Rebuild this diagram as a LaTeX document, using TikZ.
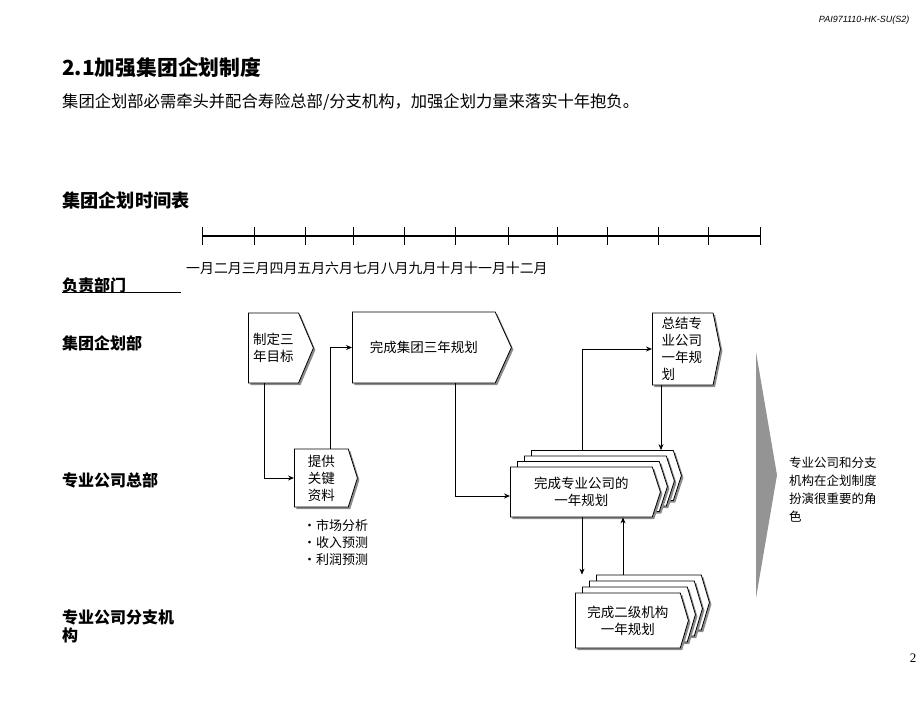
\documentclass[tikz,border=0pt]{standalone}
\usepackage{fontspec}
\setmainfont{Liberation Serif}
\newfontfamily\cjk{Noto Sans CJK SC}
\newfontfamily\arial{Liberation Sans}
\usetikzlibrary{shapes.symbols,shadows,arrows.meta,calc}

\begin{document}
\begin{tikzpicture}[x=1pt,y=-1pt,
  chev/.style={signal,signal to=east,draw,fill=white,line width=0.8pt,inner sep=0pt,anchor=west,
    drop shadow={shadow xshift=2pt,shadow yshift=-2pt,fill=black!45,opacity=1}},
  lbl/.style={font=\cjk\bfseries\fontsize{16}{19}\selectfont,anchor=west,inner sep=0pt},
  txt/.style={font=\cjk\fontsize{13.5}{17}\selectfont,align=center},
  link/.style={line width=0.8pt,-{Stealth[length=6pt,width=5pt]}}]
\useasboundingbox (0,0) rectangle (920,711);

\node[font=\arial\itshape\fontsize{9}{10}\selectfont,anchor=east] (code) at (913,20) {PAI971110-HK-SU(S2)};
\node[lbl,font=\cjk\bfseries\fontsize{20.8}{23}\selectfont] (title) at (62,68) {2.1加强集团企划制度};
\node[anchor=west,inner sep=0pt,font=\cjk\fontsize{16.3}{18}\selectfont] (sub) at (62,102)
  {集团企划部必需牵头并配合寿险总部/分支机构，加强企划力量来落实十年抱负。};
\node[lbl,font=\cjk\bfseries\fontsize{18.2}{20}\selectfont] (plan) at (62,201) {集团企划时间表};

\draw[line width=1.2pt] (202,236) -- (760,236);
\foreach \t in {202,254,305,353,404,455,508,557,607,658,708,760}
  \draw[line width=1pt] (\t,227) -- (\t,245);
\node[anchor=west,inner sep=0pt,font=\cjk\fontsize{13.9}{16}\selectfont] (months) at (186,268)
  {一月二月三月四月五月六月七月八月九月十月十一月十二月};

\node[lbl] (dept) at (62,285) {负责部门};
\draw (62,292) -- (181,292);
\node[lbl] (row1) at (62,343) {集团企划部};
\node[lbl] (row2) at (62,480) {专业公司总部};
\node[lbl,align=left,font=\cjk\bfseries\fontsize{16}{18}\selectfont] (row3) at (62,626) {专业公司分支机\\构};

\node[chev,txt,minimum width=65,minimum height=70,signal pointer angle=134] (A) at (248,348) {制定三\\年目标};
\node[chev,txt,minimum width=159,minimum height=71,signal pointer angle=131] (B) at (352,347.5) {完成集团三年规划};
\node[chev,txt,minimum width=63,minimum height=58,signal pointer angle=145] (C) at (294,478) {提供\\关键\\资料};
\node[chev,txt,align=left,text width=42,minimum width=68,minimum height=72,signal pointer angle=157] (D) at (652,349) {总结专\\业公司\\一年规\\划};

\foreach \k in {3,2,1}
  \node[chev,minimum width=150,minimum height=50,signal pointer angle=144] (E\k) at ({510+7*\k},{492-5.5*\k}) {};
\node[chev,txt,minimum width=150,minimum height=50,signal pointer angle=144] (E) at (510,492) {完成专业公司的\\一年规划};

\foreach \k in {3,2,1}
  \node[chev,minimum width=113,minimum height=55,signal pointer angle=147] (F\k) at ({575+7*\k},{620.5-6*\k}) {};
\node[chev,txt,minimum width=113,minimum height=55,signal pointer angle=147] (F) at (575,620.5) {完成二级机构\\一年规划};

\node[anchor=west,align=left,inner sep=0pt,font=\cjk\fontsize{13}{17}\selectfont] (facts) at (303,543)
  {•市场分析\\•收入预测\\•利润预测};

\draw[link] ($(A.west |- A.south)+(16,0)$) |- (C.west);
\draw[link] ($(C.west |- C.north)+(36,0)$) |- (B.west);
\draw[link] ($(B.west |- B.south)+(103,0)$) |- ($(E.west)+(0,4)$);
\draw[link] ($(E.west |- E3.north)+(72,0)$) |- (D.west);
\draw[link] ($(D.west |- D.south)+(9,0)$) -- ($(D.west |- E3.north)+(9,0)$);
\draw[link] ($(E.west |- E.south)+(72,0)$) -- ($(E.west |- F3.north)+(72,0)$);
\draw[link] ($(E.west |- F3.north)+(113,0)$) -- ($(E.west |- E.south)+(113,0)$);

\fill[black!42] (756,352) coordinate (w1) -- (777,475) coordinate (w2) -- (756,598) coordinate (w3) -- cycle;
\node[anchor=west,align=left,inner sep=0pt,font=\cjk\fontsize{12.5}{18}\selectfont] (role) at (789,490)
  {专业公司和分支\\机构在企划制度\\扮演很重要的角\\色};

\node[font=\fontsize{13}{15}\selectfont,anchor=east] (page) at (920,658) {2};
\end{tikzpicture}
\end{document}
